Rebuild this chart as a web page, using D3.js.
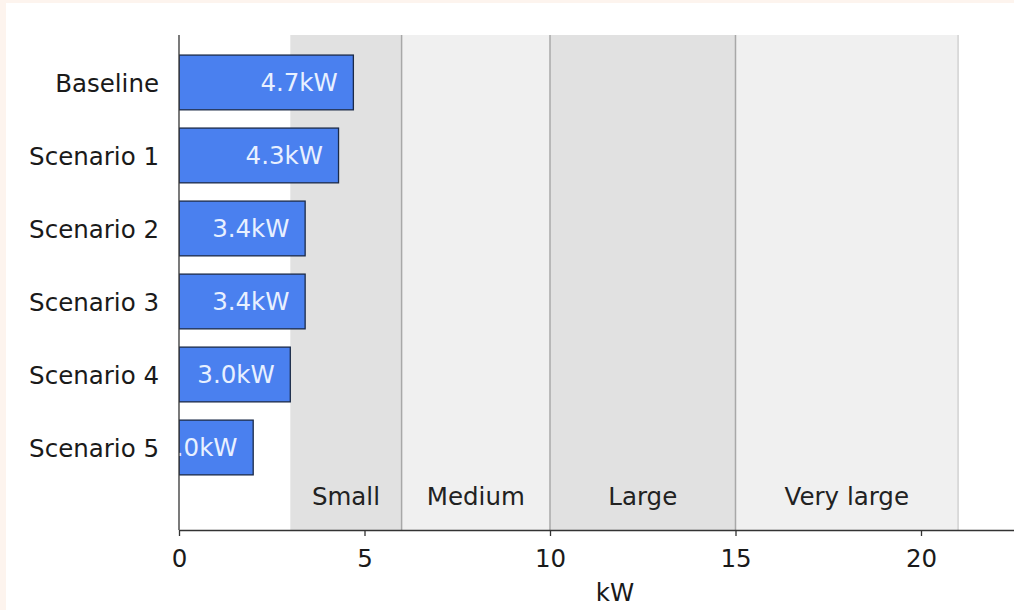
<!DOCTYPE html>
<html>
<head>
<meta charset="utf-8">
<script src="https://cdn.jsdelivr.net/npm/d3@7"></script>
<style>
  html, body { margin: 0; padding: 0; background: #ffffff; }
  svg { display: block; font-family: "DejaVu Sans", sans-serif; }
</style>
</head>
<body>
<svg id="chart" width="1014" height="610"></svg>
<script>
// Peak power per scenario (kW)
const scenarios = ["Baseline", "Scenario 1", "Scenario 2", "Scenario 3", "Scenario 4", "Scenario 5"];
const peakKW = [4.7, 4.3, 3.4, 3.4, 3.0, 2.0];

// System size classes shaded behind the bars
const sizeClasses = ["Small", "Medium", "Large", "Very large"];
const classStart = [3, 6, 10, 15];
const classEnd = [6, 10, 15, 21];

const xTicks = [0, 5, 10, 15, 20];

const W = 1014, H = 610;
const plotLeft = 179, plotTop = 35, plotBottom = 530;
const FS = 24.5;

const svg = d3.select("#chart");

// page frame
svg.append("rect").attr("x", 0).attr("y", 0).attr("width", W).attr("height", H).attr("fill", "#ffffff");
svg.append("rect").attr("x", 0).attr("y", 0).attr("width", W).attr("height", 3).attr("fill", "#fdf4ee");
svg.append("rect").attr("x", 0).attr("y", 0).attr("width", 6).attr("height", H).attr("fill", "#fdf4ee");

// the x range runs a little past the right edge of the page
const xMax = 23.5;
const x = d3.scaleLinear().domain([0, xMax]).range([plotLeft, plotLeft + xMax * 37.1]);
const y = d3.scaleLinear().domain([-0.65, 6.13]).range([plotTop, plotBottom]);
const barH = y(0.75) - y(0);

svg.append("defs").append("clipPath").attr("id", "plotClip")
  .append("rect").attr("x", plotLeft).attr("y", plotTop).attr("width", W - plotLeft).attr("height", plotBottom - plotTop);

const plot = svg.append("g").attr("clip-path", "url(#plotClip)");

// size class bands
const bands = sizeClasses.map((name, i) => ({ name, a: classStart[i], b: classEnd[i], i }));
plot.selectAll("rect.band").data(bands).join("rect")
  .attr("class", "band")
  .attr("x", d => x(d.a))
  .attr("y", plotTop)
  .attr("width", d => x(d.b) - x(d.a))
  .attr("height", plotBottom - plotTop)
  .attr("fill", d => d.i % 2 === 0 ? "#e1e1e1" : "#f0f0f0");

// boundaries between classes
plot.selectAll("line.bound").data(bands.slice(1)).join("line")
  .attr("class", "bound")
  .attr("x1", d => x(d.a)).attr("x2", d => x(d.a))
  .attr("y1", plotTop).attr("y2", plotBottom)
  .attr("stroke", "#a8a8a8").attr("stroke-width", 1.5);
plot.append("line")
  .attr("x1", x(classEnd[3])).attr("x2", x(classEnd[3]))
  .attr("y1", plotTop).attr("y2", plotBottom)
  .attr("stroke", "#d2d2d2").attr("stroke-width", 1.5);

// class names
plot.selectAll("text.band-label").data(bands).join("text")
  .attr("class", "band-label")
  .attr("x", d => x((d.a + d.b) / 2))
  .attr("y", y(5.66))
  .attr("dy", "0.36em")
  .attr("text-anchor", "middle")
  .attr("font-size", FS)
  .attr("fill", "#222")
  .text(d => d.name);

// bars
const rows = scenarios.map((s, i) => ({ s, v: peakKW[i], i }));
plot.selectAll("rect.bar").data(rows).join("rect")
  .attr("class", "bar")
  .attr("x", x(0))
  .attr("y", d => y(d.i) - barH / 2)
  .attr("width", d => x(d.v) - x(0))
  .attr("height", barH)
  .attr("fill", "#4a80ef")
  .attr("stroke", "#1b2a48")
  .attr("stroke-width", 1.3);

// value labels inside bars
plot.selectAll("text.val").data(rows).join("text")
  .attr("class", "val")
  .attr("x", d => x(d.v - 0.42))
  .attr("y", d => y(d.i))
  .attr("dy", "0.36em")
  .attr("text-anchor", "end")
  .attr("font-size", FS)
  .attr("fill", "#e8f0ff")
  .text(d => d.v.toFixed(1) + "kW");

// category labels
svg.selectAll("text.cat").data(rows).join("text")
  .attr("class", "cat")
  .attr("x", 159)
  .attr("y", d => y(d.i))
  .attr("dy", "0.4em")
  .attr("text-anchor", "end")
  .attr("font-size", FS)
  .attr("fill", "#1a1a1a")
  .text(d => d.s);

// x axis
const xAxis = svg.append("g")
  .attr("transform", `translate(0,${plotBottom})`)
  .call(d3.axisBottom(x).tickValues(xTicks).tickSize(6).tickSizeOuter(0).tickPadding(14));
xAxis.select(".domain").attr("stroke", "#333").attr("stroke-width", 1.3);
xAxis.selectAll(".tick line").attr("stroke", "#333").attr("stroke-width", 1.3);
xAxis.selectAll(".tick text").attr("font-size", FS).attr("fill", "#1a1a1a")
  .attr("font-family", "DejaVu Sans, sans-serif");

// left spine
svg.append("line")
  .attr("x1", plotLeft).attr("x2", plotLeft)
  .attr("y1", plotTop).attr("y2", plotBottom)
  .attr("stroke", "#333").attr("stroke-width", 1.3);

// axis title, centred under the full x range
svg.append("text")
  .attr("x", x(xMax / 2))
  .attr("y", 592)
  .attr("dy", "0.35em")
  .attr("text-anchor", "middle")
  .attr("font-size", FS)
  .attr("fill", "#1a1a1a")
  .text("kW");
</script>
</body>
</html>
